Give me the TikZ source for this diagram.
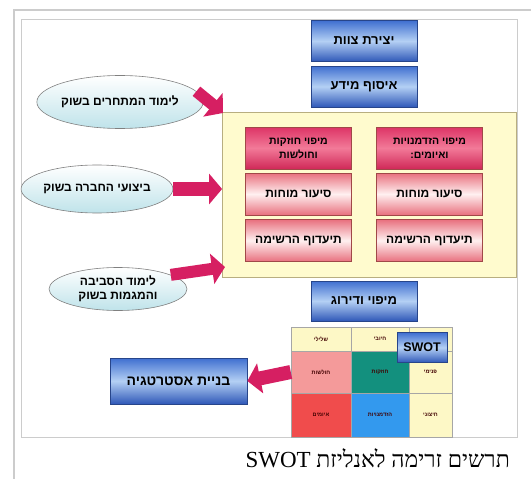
\documentclass[tikz,border=0pt]{standalone}
\usepackage{fontspec}
\usetikzlibrary{arrows.meta,shapes.geometric}
\TeXXeTstate=1
\newfontfamily\hebsans[Script=Hebrew]{Liberation Sans}
\newfontfamily\hebserif[Script=Hebrew]{Liberation Serif}
\newcommand\hbR[1]{\beginR #1\endR}
\definecolor{bluetop}{HTML}{3F6FD0}
\definecolor{bluemid}{HTML}{B4D0F4}
\definecolor{bluebot}{HTML}{2F58B8}
\definecolor{blueline}{HTML}{27458A}
\definecolor{redtop}{HTML}{DD3466}
\definecolor{redmid}{HTML}{F27A98}
\definecolor{redbot}{HTML}{D02858}
\definecolor{pinkedge}{HTML}{E8707E}
\definecolor{pinkmid}{HTML}{FFF0F0}
\definecolor{redline}{HTML}{A04848}
\definecolor{panelfill}{HTML}{FFFBCE}
\definecolor{panelline}{HTML}{B8AE80}
\definecolor{ellfill}{HTML}{BFE3EA}
\definecolor{arrowcol}{HTML}{D61F62}
\definecolor{framegray}{HTML}{CCCCCC}
\definecolor{cellyellow}{HTML}{FDF8C6}
\definecolor{cellpink}{HTML}{F49A9A}
\definecolor{cellteal}{HTML}{13907E}
\definecolor{cellred}{HTML}{F04C4C}
\definecolor{cellblue}{HTML}{3399EE}
\tikzset{
  bluebox/.style={draw=blueline, line width=0.8pt, top color=bluetop, bottom color=bluebot, middle color=bluemid,
    minimum width=106pt, minimum height=41pt, inner sep=0pt, font=\hebsans\bfseries\fontsize{13}{15}\selectfont},
  redbox/.style={draw=redline, line width=0.6pt, top color=redtop, bottom color=redbot, middle color=redmid,
    minimum width=106pt, minimum height=42pt, inner sep=0pt, align=center, font=\hebsans\bfseries\fontsize{10.5}{14}\selectfont},
  pinkbox/.style={draw=redline, line width=0.6pt, top color=pinkedge, bottom color=pinkedge, middle color=pinkmid,
    minimum width=106pt, minimum height=42pt, inner sep=0pt, font=\hebsans\bfseries\fontsize{12}{14}\selectfont},
  ell/.style={ellipse, draw=gray, line width=0.6pt, top color=white, bottom color=ellfill, inner sep=0pt, align=center,
    font=\hebsans\bfseries\fontsize{12}{14}\selectfont},
  bigarrow/.style={arrowcol, line width=14pt, -{Triangle[width=30pt,length=13pt]}},
  cell/.style={minimum width=#1, inner sep=0pt, font=\hebsans\bfseries\fontsize{5.5}{6}\selectfont, text=black!75!red},
}
\begin{document}
\begin{tikzpicture}[x=1pt,y=-1pt]
\useasboundingbox (0,0) rectangle (531,479);
% frames
\draw[framegray, line width=1.2pt] (14,479) -- (14,10) -- (531,10);
\draw[framegray, line width=0.9pt] (21,19) rectangle (517,437);
% panel
\node[draw=panelline, fill=panelfill, line width=0.8pt, minimum width=294pt, minimum height=165pt, inner sep=0pt] (panel) at (369.5,194.5) {};
% blue boxes
\node[bluebox] (team) at (364,41) {\hbR{יצירת צוות}};
\node[bluebox] (info) at (364,86.5) {\hbR{איסוף מידע}};
\node[bluebox, minimum height=40pt] (rank) at (364,301) {\hbR{מיפוי ודירוג}};
\node[bluebox, minimum width=137pt, minimum height=46pt, font=\hebsans\bfseries\fontsize{14}{16}\selectfont] (strat) at (178.5,381) {\hbR{בניית אסטרטגיה}};
% red boxes
\node[redbox] (sw) at (298.5,148) {\hbR{מיפוי חוזקות}\\\hbR{וחולשות}};
\node[redbox] (ot) at (429.5,148) {\hbR{מיפוי הזדמנויות}\\\hbR{ואיומים:}};
\node[pinkbox] (bs1) at (298.5,194) {\hbR{סיעור מוחות}};
\node[pinkbox] (bs2) at (429.5,194) {\hbR{סיעור מוחות}};
\node[pinkbox] (pr1) at (298.5,240.5) {\hbR{תיעדוף הרשימה}};
\node[pinkbox] (pr2) at (429.5,240.5) {\hbR{תיעדוף הרשימה}};
% ellipses
\node[ell, minimum width=154pt, minimum height=53pt] (e1) at (120,102) {\hbR{לימוד המתחרים בשוק}};
\node[ell, minimum width=144pt, minimum height=48pt] (e2) at (97,189) {\hbR{ביצועי החברה בשוק}};
\node[ell, minimum width=138pt, minimum height=43pt] (e3) at (118,289) {\hbR{לימוד הסביבה}\\\hbR{והמגמות בשוק}};
% SWOT grid
\node[cell=60pt, fill=cellyellow, minimum height=24pt] (g11) at (321,339) {\hbR{שלילי}};
\node[cell=58pt, fill=cellyellow, minimum height=24pt] (g12) at (380,339) {\hbR{חיובי}};
\node[cell=43pt, fill=cellyellow, minimum height=24pt] (g13) at (430.5,339) {};
\node[cell=60pt, fill=cellpink, minimum height=42pt] (g21) at (321,372) {\hbR{חולשות}};
\node[cell=58pt, fill=cellteal, minimum height=42pt] (g22) at (380,372) {\hbR{חוזקות}};
\node[cell=43pt, fill=cellyellow, minimum height=42pt] (g23) at (430.5,372) {\hbR{פנימי}};
\node[cell=60pt, fill=cellred, minimum height=44pt] (g31) at (321,415) {\hbR{איומים}};
\node[cell=58pt, fill=cellblue, minimum height=44pt] (g32) at (380,415) {\hbR{הזדמנויות}};
\node[cell=43pt, fill=cellyellow, minimum height=44pt] (g33) at (430.5,415) {\hbR{חיצוני}};
\draw[gray!70, line width=0.5pt] (291,327) rectangle (452,437);
\draw[gray!70, line width=0.5pt] (351,327) -- (351,437) (409,327) -- (409,437) (291,351) -- (452,351) (291,393) -- (452,393);
\node[bluebox, minimum width=50pt, minimum height=30pt, font=\hebsans\bfseries\fontsize{12.5}{14}\selectfont] (swot) at (422,347.5) {SWOT};
% arrows
\coordinate (a1) at (223,113);
\coordinate (a3) at (225,267);
\draw[bigarrow, line width=12pt] (e1.8) -- (a1);
\draw[bigarrow] (e2.east) -- (panel.west |- e2.east);
\draw[bigarrow, line width=12pt] (e3.15) -- (a3);
\draw[bigarrow] (g21.west) -- (strat.east);
% caption
\node[anchor=east, inner sep=0pt, font=\hebserif\fontsize{23}{26}\selectfont] (cap) at (510,458) {\hbR{תרשים זרימה לאנליזת \beginL SWOT\endL}};
\end{tikzpicture}
\end{document}
